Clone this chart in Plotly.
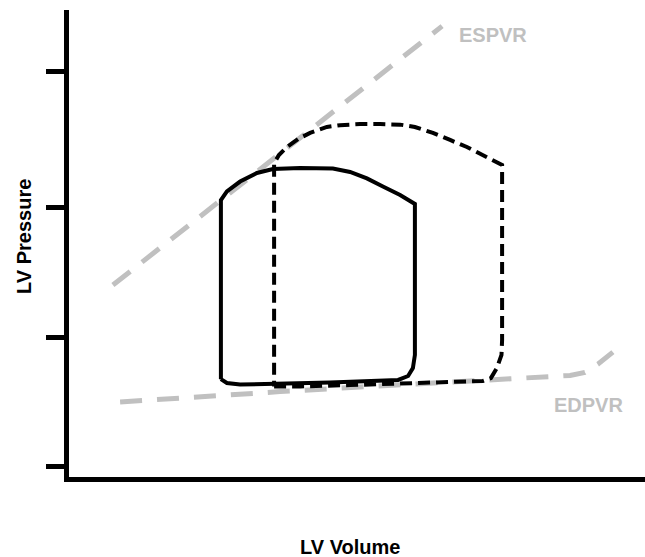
import plotly.graph_objects as go

# ---- data (volume in mL, pressure in mmHg) ----
solid_vol = [77.2, 80.2, 86.8, 104.2, 131.8, 165.8, 170.8, 173.2, 174.2, 174.2,
             166.8, 158.2, 150.2, 141.8, 133.2, 116.8, 103.2, 95.2, 86.8, 80.2, 77.2, 77.2]
solid_pres = [33.8, 32.3, 31.7, 31.9, 32.5, 33.5, 35.0, 38.1, 43.1, 101.2,
              104.6, 107.9, 111.0, 113.5, 114.8, 115.0, 114.6, 113.1, 109.8, 106.0, 102.7, 33.8]

dashed_vol = [103.8, 116.8, 141.8, 166.8, 191.8, 208.2, 212.2, 215.2, 217.5, 217.8,
              217.8, 209.2, 200.2, 191.8, 183.2, 174.2, 166.8, 156.8, 146.8, 136.8,
              130.2, 121.8, 115.8, 110.2, 106.2, 103.8, 103.8]
dashed_pres = [31.0, 31.0, 31.5, 32.1, 32.7, 33.1, 34.2, 38.1, 43.1, 48.9,
               116.2, 119.6, 123.1, 125.8, 128.5, 130.8, 131.7, 131.9, 131.9, 131.5,
               130.8, 128.5, 126.2, 123.1, 120.0, 116.9, 31.0]

espvr_vol = [23.2, 187.8]
espvr_pres = [70.0, 169.6]

edpvr_vol = [26.8, 66.8, 106.8, 146.8, 186.8, 215.8, 236.8, 251.8, 259.2, 265.8, 273.2]
edpvr_pres = [25.0, 27.1, 29.0, 30.8, 32.5, 33.9, 34.6, 35.2, 36.4, 39.6, 44.2]

pressure_ticks = [0, 50, 100, 152]

labels = ["ESPVR", "EDPVR"]
label_vol = [213.2, 260.8]
label_pres = [166.2, 23.9]

GRAY = "#c0c0c0"
FONT = "Liberation Sans, Arial, sans-serif"

fig = go.Figure()
fig.add_trace(go.Scatter(x=espvr_vol, y=espvr_pres, mode="lines",
                         line=dict(color=GRAY, width=5, dash="22px,15px"),
                         hoverinfo="skip"))
fig.add_trace(go.Scatter(x=edpvr_vol, y=edpvr_pres, mode="lines",
                         line=dict(color=GRAY, width=5, dash="22px,15px"),
                         hoverinfo="skip"))
fig.add_trace(go.Scatter(x=solid_vol, y=solid_pres, mode="lines",
                         line=dict(color="black", width=4)))
fig.add_trace(go.Scatter(x=dashed_vol, y=dashed_pres, mode="lines",
                         line=dict(color="black", width=4, dash="12px,6px")))

for t, vx, py in zip(labels, label_vol, label_pres):
    fig.add_annotation(x=vx, y=py, text="<b>%s</b>" % t, showarrow=False,
                       xanchor="center", yanchor="middle",
                       font=dict(family=FONT, size=20, color=GRAY))

fig.add_annotation(xref="paper", yref="paper", x=0.487, y=0, yshift=-70,
                   text="<b>LV Volume</b>", showarrow=False,
                   xanchor="center", yanchor="middle",
                   font=dict(family=FONT, size=20, color="black"))
fig.add_annotation(xref="paper", yref="paper", x=0, xshift=-45, y=0.514,
                   text="<b>LV Pressure</b>", showarrow=False, textangle=-90,
                   xanchor="center", yanchor="middle",
                   font=dict(family=FONT, size=20, color="black"))

fig.update_layout(
    width=645, height=557,
    margin=dict(l=69, r=0, t=10, b=80),
    paper_bgcolor="white", plot_bgcolor="white",
    showlegend=False,
    xaxis=dict(range=[1.25, 289.25], showline=True, linewidth=5, linecolor="black",
               showgrid=False, zeroline=False, ticks="", showticklabels=False),
    yaxis=dict(range=[-3.85, 175.8], showline=True, linewidth=5, linecolor="black",
               showgrid=False, zeroline=False, ticks="outside", ticklen=18,
               tickwidth=5, tickcolor="black", tickvals=pressure_ticks,
               showticklabels=False),
)

fig.write_html("out.html")
